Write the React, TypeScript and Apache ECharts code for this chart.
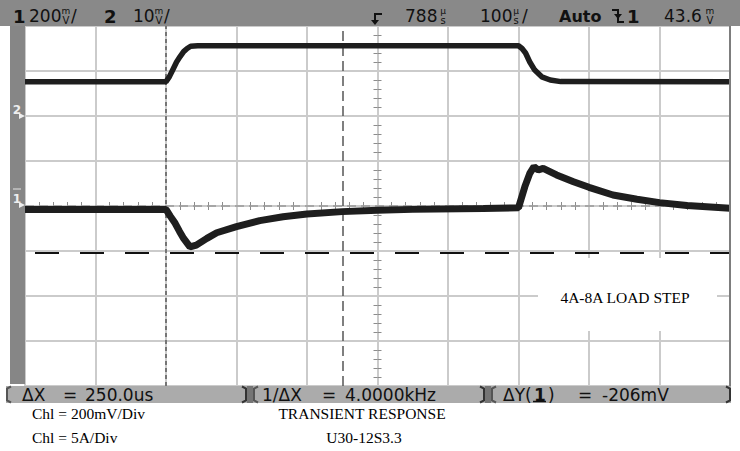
import React, { useEffect, useRef } from "react";
import * as echarts from "echarts";

// ---- Data (time relative to screen centre, us) ----
const ch1TimeUs = [-500, -300, -294, -287, -281, -275, -266, -257, -242, -228, -200, -167, -134, -100, -50, 0, 50, 150, 200, 209, 216, 222, 228, 235, 254, 278, 300, 334, 368, 400, 439, 500];
const ch1mV = [-15, -15, -45, -77, -112, -144, -182, -174, -144, -119, -92, -65, -48, -36, -25, -19, -15, -11, -8, 86, 145, 175, 160, 167, 138, 108, 83, 49, 30, 15, 2, -10];

const ch2TimeUs = [-500, -300, -295, -290, -285, -280, -275, -270, -265, -255, 200, 205, 210, 216, 223, 233, 245, 260, 500];
const ch2A = [3.8, 3.8, 4.4, 5.2, 6.0, 6.6, 7.15, 7.5, 7.75, 7.8, 7.8, 7.5, 7.0, 6.0, 5.1, 4.35, 4.0, 3.82, 3.8];

const cursorXUs = [-300, -50];
const cursorYmV = [0, -206];

const CH1_MV_PER_DIV = 200;
const CH2_A_PER_DIV = 5;
const CH1_REF_DIV = 0;
const CH2_REF_DIV = 2;

const SANS = "'DejaVu Sans', Verdana, sans-serif";
const SERIF = "'Liberation Serif', 'Times New Roman', serif";

function T(x: number, y: number, text: string, size: number, o: any = {}) {
  const align = o.align || "left";
  return {
    type: "text",
    x,
    y,
    z: 100,
    silent: true,
    style: {
      text,
      font: `${o.weight || "normal"} ${size}px ${o.family || SANS}`,
      fill: o.fill || "#111111",
      align,
      verticalAlign: "middle",
      textAlign: align,
      textVerticalAlign: "middle",
    },
  };
}

function stack(x: number, a: string, b: string) {
  return [T(x + 4, 11, a, 9, { align: "center" }), T(x + 4, 20, b, 10, { align: "center" })];
}

function bracket(x: number, open: boolean, color: string) {
  const d = open ? 4 : -4;
  return {
    type: "polyline",
    z: 100,
    silent: true,
    shape: { points: [[x + d, 386.5], [x, 388.5], [x, 400.5], [x + d, 402.5]] },
    style: { stroke: color, lineWidth: 2, fill: "none" },
  };
}

function segment(x0: number, x1: number) {
  return [
    { type: "rect", z: 95, silent: true, shape: { x: x0, y: 386, width: x1 - x0, height: 17 }, style: { fill: "#ababab" } },
    bracket(x0 + 1, true, "#555"),
    bracket(x1 - 1, false, "#333"),
  ];
}

export default function App() {
  const ref = useRef<HTMLDivElement>(null);
  useEffect(() => {
    if (!ref.current) return;
    const chart = echarts.init(ref.current, null, { renderer: "svg" });

    const ch1Data = ch1TimeUs.map((t, i) => [t, ch1mV[i] / CH1_MV_PER_DIV + CH1_REF_DIV]);
    const ch2Data = ch2TimeUs.map((t, i) => [t, ch2A[i] / CH2_A_PER_DIV + CH2_REF_DIV]);

    const minorTick = { show: true, splitNumber: 5, length: 4, lineStyle: { color: "#8c8c8c", width: 1 } };
    const baseX = {
      type: "value",
      min: -500,
      max: 500,
      interval: 100,
      axisLine: { show: false, onZero: true, onZeroAxisIndex: 0 },
      axisTick: { show: false },
      axisLabel: { show: false },
      minorTick,
      minorSplitLine: { show: false },
    };
    const baseY = {
      type: "value",
      min: -4,
      max: 4,
      interval: 1,
      axisLine: { show: false, onZero: true, onZeroAxisIndex: 0 },
      axisTick: { show: false },
      axisLabel: { show: false },
      minorTick,
      minorSplitLine: { show: false },
    };
    const grid = { color: "#cbcbcb", width: 2 };

    const graphic: any[] = [
      // top status bar
      { type: "rect", z: 90, silent: true, shape: { x: 0, y: 0, width: 740, height: 26 }, style: { fill: "#898989" } },
      // left strip
      { type: "rect", z: 90, silent: true, shape: { x: 10, y: 26, width: 15, height: 358 }, style: { fill: "#868686" } },
      // right frame
      { type: "line", z: 90, silent: true, shape: { x1: 730, y1: 26, x2: 730, y2: 386 }, style: { stroke: "#7d7d7d", lineWidth: 2 } },
      // label box
      { type: "rect", z: 50, silent: true, shape: { x: 538, y: 258, width: 179, height: 73 }, style: { fill: "#ffffff" } },
      T(625, 297, "4A-8A LOAD STEP", 15.5, { family: SERIF, align: "center", fill: "#000" }),

      // top texts
      T(13, 16, "1", 18, { weight: "bold" }),
      T(29, 16, "200", 17),
      ...stack(62, "m", "V"),
      T(71, 16, "/", 17),
      T(104, 16, "2", 18, { weight: "bold" }),
      T(133, 16, "10", 17),
      ...stack(155, "m", "V"),
      T(164, 16, "/", 17),
      { type: "polyline", z: 100, silent: true, shape: { points: [[382, 14], [375, 14], [375, 21]] }, style: { stroke: "#111", lineWidth: 2, fill: "none" } },
      { type: "polygon", z: 100, silent: true, shape: { points: [[371, 20], [379, 20], [375, 25]] }, style: { fill: "#111" } },
      T(405, 16, "788", 17),
      ...stack(439, "µ", "s"),
      T(480, 16, "100", 17),
      ...stack(512, "µ", "s"),
      T(522, 16, "/", 17),
      T(559, 16, "Auto", 16, { weight: "bold" }),
      { type: "polyline", z: 100, silent: true, shape: { points: [[612, 10], [618, 10], [618, 22], [624, 22]] }, style: { stroke: "#111", lineWidth: 2, fill: "none" } },
      { type: "polygon", z: 100, silent: true, shape: { points: [[614, 14], [622, 14], [618, 19]] }, style: { fill: "#111" } },
      T(627, 16, "1", 18, { weight: "bold" }),
      T(664, 16, "43.6", 17),
      ...stack(706, "m", "V"),

      // left strip markers
      T(17, 110, "2", 12, { weight: "bold", fill: "#eeeeee", align: "center" }),
      { type: "polygon", z: 100, silent: true, shape: { points: [[19, 113], [25, 116], [19, 119]] }, style: { fill: "#eeeeee" } },
      { type: "rect", z: 100, silent: true, shape: { x: 13, y: 188, width: 8, height: 2 }, style: { fill: "#b5b5b5" } },
      T(17, 199, "1", 12, { weight: "bold", fill: "#eeeeee", align: "center" }),
      { type: "polygon", z: 100, silent: true, shape: { points: [[19, 202], [25, 205], [19, 208]] }, style: { fill: "#eeeeee" } },

      // bottom measurement bar
      { type: "rect", z: 94, silent: true, shape: { x: 246, y: 386, width: 8, height: 17 }, style: { fill: "#757575" } },
      { type: "rect", z: 94, silent: true, shape: { x: 484, y: 386, width: 8, height: 17 }, style: { fill: "#757575" } },
      ...segment(6, 247),
      ...segment(253, 485),
      ...segment(491, 731),
      T(22, 395, "ΔX", 17),
      T(63, 395, "=", 17),
      T(85, 395, "250.0us", 17),
      T(262, 395, "1/ΔX", 17),
      T(322, 395, "=", 17),
      T(345, 395, "4.0000kHz", 17),
      T(503, 395, "ΔY(", 17),
      T(534, 395, "1", 17, { weight: "bold" }),
      { type: "line", z: 100, silent: true, shape: { x1: 533, y1: 401.5, x2: 546, y2: 401.5 }, style: { stroke: "#111", lineWidth: 1.5 } },
      T(548, 395, ")", 17),
      T(578, 395, "=", 17),
      T(602, 395, "-206mV", 17),

      // captions
      T(32, 413, "Chl = 200mV/Div", 15.5, { family: SERIF, fill: "#000" }),
      T(32, 437, "Chl = 5A/Div", 15.5, { family: SERIF, fill: "#000" }),
      T(362, 413, "TRANSIENT RESPONSE", 15.5, { family: SERIF, align: "center", fill: "#000" }),
      T(364, 437, "U30-12S3.3", 15.5, { family: SERIF, align: "center", fill: "#000" }),
    ];

    const cursorColors = ["#5a5a5a", "#555555"];
    const cursorDash = [[4, 3], [10, 5]];

    const option: any = {
      animation: false,
      backgroundColor: "#ffffff",
      grid: { left: 25, top: 26, width: 705, height: 360, show: false },
      xAxis: [
        { ...baseX, position: "bottom", splitLine: { show: true, lineStyle: grid } },
        { ...baseX, position: "top", splitLine: { show: false } },
      ],
      yAxis: [
        { ...baseY, position: "left", splitLine: { show: true, lineStyle: grid } },
        { ...baseY, position: "right", splitLine: { show: false } },
      ],
      series: [
        {
          type: "line",
          name: "Ch2",
          xAxisIndex: 0,
          yAxisIndex: 0,
          data: ch2Data,
          symbol: "none",
          silent: true,
          z: 5,
          lineStyle: { color: "#1e1e1e", width: 5.5 },
        },
        {
          type: "line",
          name: "Ch1",
          xAxisIndex: 0,
          yAxisIndex: 0,
          data: ch1Data,
          symbol: "none",
          silent: true,
          z: 5,
          lineStyle: { color: "#1e1e1e", width: 7 },
          markLine: {
            silent: true,
            symbol: ["none", "none"],
            label: { show: false },
            z: 3,
            data: [
              ...cursorXUs.map((t, i) => ({
                xAxis: t,
                lineStyle: { color: cursorColors[i], width: 1.5, type: cursorDash[i] },
              })),
              {
                yAxis: cursorYmV[0] / CH1_MV_PER_DIV + CH1_REF_DIV,
                lineStyle: { color: "#9a9a9a", width: 1.5, type: [9, 5] },
              },
              {
                yAxis: cursorYmV[1] / CH1_MV_PER_DIV + CH1_REF_DIV,
                lineStyle: { color: "#111111", width: 2, type: [24, 21], dashOffset: 35 },
              },
            ],
          },
        },
      ],
      graphic,
    };
    chart.setOption(option);
    return () => chart.dispose();
  }, []);
  return (
    <div
      ref={ref}
      style={{ position: "fixed", left: 0, top: 0, width: 740, height: 451, background: "#fff" }}
    />
  );
}
